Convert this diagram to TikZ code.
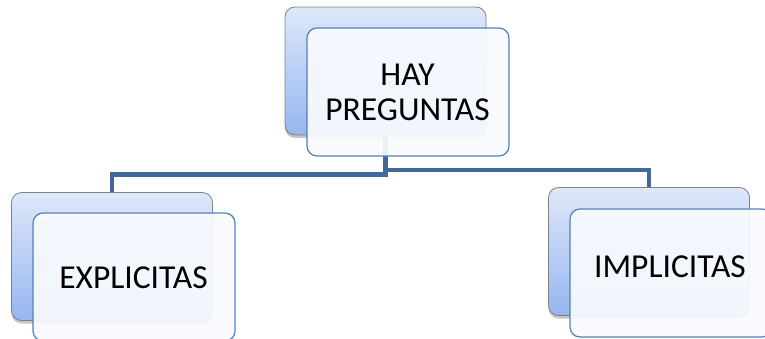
\documentclass[tikz,border=0pt]{standalone}
\usepackage{fontspec}
\setmainfont{Carlito}
\usetikzlibrary{shadows}
\definecolor{linkblue}{RGB}{64,104,155}
\definecolor{backtop}{RGB}{222,232,250}
\definecolor{backbot}{RGB}{150,182,240}
\definecolor{backline}{RGB}{128,128,128}
\definecolor{frontfill}{RGB}{248,250,254}
\definecolor{frontline}{RGB}{79,129,189}
\begin{document}
\begin{tikzpicture}[x=1pt,y=-1pt,
  backbox/.style={draw=backline, line width=0.8pt, rounded corners=10pt,
    top color=backtop, bottom color=backbot,
    drop shadow={shadow xshift=0pt, shadow yshift=-3pt, opacity=0.45},
    minimum width=201pt, minimum height=128pt, inner sep=0pt},
  frontbox/.style={draw=frontline, line width=1.2pt, rounded corners=10pt,
    fill=frontfill, fill opacity=0.93,
    minimum width=202pt, minimum height=128pt, inner sep=0pt},
  link/.style={draw=linkblue, line width=4.5pt},
  label/.style={font=\fontsize{33.5}{35}\selectfont, text=black, align=center}]
\useasboundingbox (0,0) rectangle (765,338);
\clip (0,0) rectangle (765,338);
% back boxes
\node[backbox] (topback) at (385.5,71) {};
\node[backbox] (leftback) at (112,256.5) {};
\node[backbox] (rightback) at (649,251.5) {};
% connectors
\coordinate (kneeL) at (385.5,174.5);
\coordinate (kneeR) at (385.5,170);
\draw[link] (topback.south -| kneeL) -- (kneeL) -- (kneeL -| leftback.north) -- (leftback.north);
\draw[link] (kneeR) -- (kneeR -| rightback.north) -- (rightback.north);
% front boxes
\node[frontbox] (topfront) at (408,92) {};
\node[frontbox] (leftfront) at (134,277) {};
\node[frontbox] (rightfront) at (671,273) {};
% texts
\node[label] (toptext) at (407.5,92.5) {HAY\\PREGUNTAS};
\node[label] (lefttext) at (133.5,278) {EXPLICITAS};
\node[label] (righttext) at (670,267) {IMPLICITAS};
\end{tikzpicture}
\end{document}
